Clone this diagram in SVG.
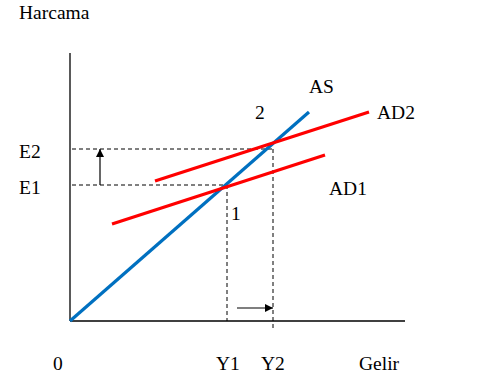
<svg xmlns="http://www.w3.org/2000/svg" width="487" height="382" viewBox="0 0 487 382">
<style>
text{font-family:"Liberation Serif","Times New Roman",serif;font-size:19.5px;fill:#000}
.ax{stroke:#000;stroke-width:1.3;fill:none}
.dash{stroke:#000;stroke-width:1;stroke-dasharray:4,3;fill:none}
.ad{stroke:#FF0000;stroke-width:3.2;fill:none}
.as{stroke:#0070C0;stroke-width:3.2;fill:none}
.arr{stroke:#000;stroke-width:1.2;fill:none}
</style>
<defs>
<marker id="ah" viewBox="0 0 10 10" refX="10" refY="5" markerWidth="10" markerHeight="8" markerUnits="userSpaceOnUse" orient="auto"><path d="M0,0L10,5L0,10z" fill="#000"/></marker>
</defs>
<g id="axes">
<line class="ax" x1="70" y1="53" x2="70" y2="321"/>
<line class="ax" x1="70" y1="321" x2="405" y2="321"/>
</g>
<g id="connectors">
<line class="dash" x1="72" y1="149" x2="273" y2="149"/>
<line class="dash" x1="273" y1="149" x2="273" y2="328"/>
<line class="dash" x1="72" y1="185" x2="227" y2="185"/>
<line class="dash" x1="227" y1="185" x2="227" y2="321"/>
<line class="arr" x1="100" y1="185" x2="100" y2="149" marker-end="url(#ah)"/>
<line class="arr" x1="237" y1="308" x2="273" y2="308" marker-end="url(#ah)"/>
</g>
<g id="AS"><line class="as" x1="70" y1="321" x2="309" y2="112"/><text x="309" y="93">AS</text></g>
<g id="AD2"><line class="ad" x1="155" y1="181" x2="369" y2="112"/><text x="377" y="119">AD2</text></g>
<g id="AD1"><line class="ad" x1="112" y1="224" x2="325" y2="155"/><text x="329" y="195">AD1</text></g>
<g id="labels">
<text x="19" y="19">Harcama</text>
<text x="19" y="158">E2</text>
<text x="19" y="194">E1</text>
<text x="255" y="119">2</text>
<text x="231" y="220">1</text>
<text x="53" y="370">0</text>
<text x="216" y="370">Y1</text>
<text x="261" y="370">Y2</text>
<text x="359" y="370">Gelir</text>
</g>
</svg>
